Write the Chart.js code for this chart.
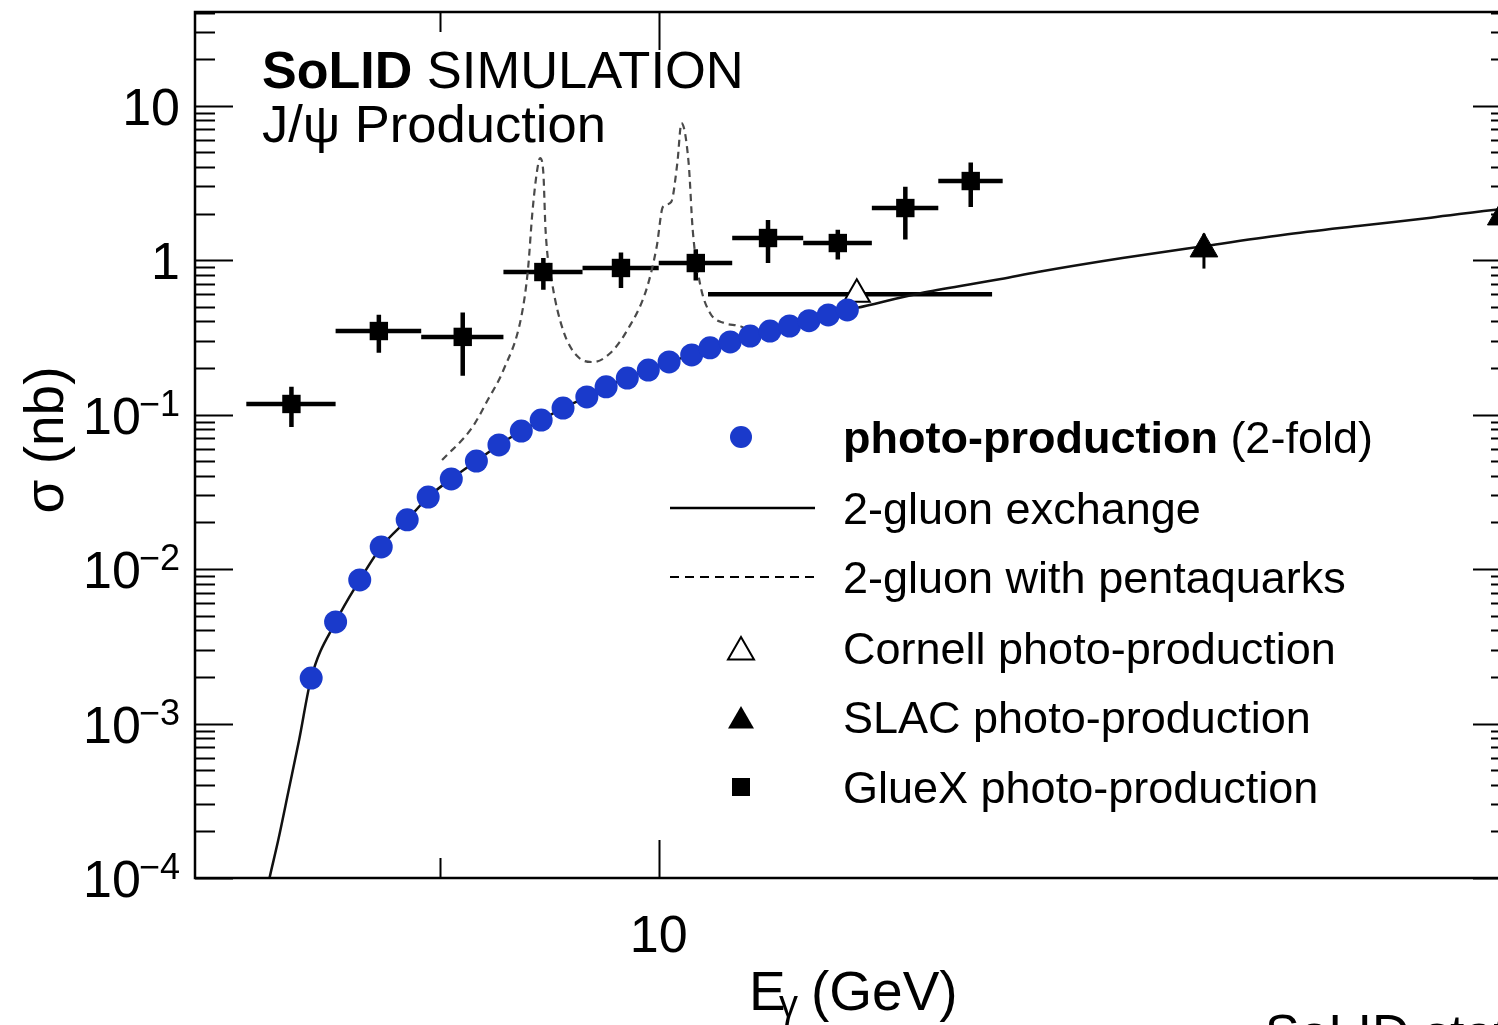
<!DOCTYPE html>
<html>
<head>
<meta charset="utf-8">
<title>J/psi photo-production cross section</title>
<script src="https://cdn.jsdelivr.net/npm/chart.js@4.4.1/dist/chart.umd.min.js"></script>
<style>
  html, body { margin: 0; padding: 0; background: #fff; overflow: hidden; }
  #wrap { width: 1530px; height: 1025px; }
</style>
</head>
<body>
<div id="wrap"><canvas id="chart" width="1530" height="1025"></canvas></div>
<script>
// ---- Photo-production (2-fold) projection: E_gamma (GeV), sigma (nb)
const ppE = [8.46, 8.56, 8.66, 8.75, 8.86, 8.95, 9.05, 9.16, 9.26, 9.36, 9.45, 9.55, 9.66,
             9.75, 9.85, 9.95, 10.05, 10.16, 10.25, 10.35, 10.45, 10.55, 10.65, 10.75, 10.85, 10.95];
const ppSigma = [0.00197, 0.00454, 0.00849, 0.0139, 0.0208, 0.0292, 0.0383, 0.0500, 0.0635, 0.0782,
                 0.0921, 0.110, 0.130, 0.151, 0.172, 0.194, 0.219, 0.243, 0.270, 0.295, 0.322,
                 0.347, 0.374, 0.405, 0.441, 0.475];

// ---- 2-gluon exchange model curve
const gluonE = [8.27, 8.292, 8.327, 8.369, 8.411,
                8.46, 8.56, 8.66, 8.75, 8.86, 8.95, 9.05, 9.16, 9.26, 9.36, 9.45, 9.55, 9.66,
                9.75, 9.85, 9.95, 10.05, 10.16, 10.25, 10.35, 10.45, 10.55, 10.65, 10.75, 10.85, 10.95,
                11.0, 11.36, 11.79, 12.0, 12.5, 13.0, 13.5, 14.0, 14.5, 15.0, 15.2];
const gluonSigma = [0.000068, 0.0001, 0.000176, 0.000371, 0.000782,
                    0.00197, 0.00454, 0.00849, 0.0139, 0.0208, 0.0292, 0.0383, 0.0500, 0.0635, 0.0782,
                    0.0921, 0.110, 0.130, 0.151, 0.172, 0.194, 0.219, 0.243, 0.270, 0.295, 0.322,
                    0.347, 0.374, 0.405, 0.441, 0.475,
                    0.49, 0.616, 0.753, 0.836, 1.03, 1.23, 1.45, 1.66, 1.88, 2.14, 2.22];

// ---- 2-gluon exchange with pentaquark resonances
const pentaE = [9.01, 9.14, 9.21, 9.28, 9.36, 9.39, 9.41, 9.43, 9.445, 9.46, 9.47, 9.50, 9.55, 9.62,
                9.69, 9.77, 9.85, 9.94, 9.99, 10.02, 10.06, 10.09, 10.11, 10.145, 10.165, 10.20,
                10.25, 10.32, 10.41, 10.45];
const pentaSigma = [0.0507, 0.0818, 0.124, 0.194, 0.428, 0.862, 2.015, 3.656, 4.57, 3.656, 1.564, 0.710,
                    0.352, 0.2356, 0.2187, 0.250, 0.352, 0.639, 1.214, 2.203, 2.374, 4.245, 7.70,
                    4.245, 1.564, 0.710, 0.454, 0.391, 0.368, 0.33];

// ---- GlueX data: bin centre, bin edges, sigma, error
const gluexE     = [8.38, 8.74, 9.10, 9.46, 9.82, 10.18, 10.54, 10.90, 11.26, 11.62];
const gluexLo    = [8.20, 8.56, 8.92, 9.28, 9.64, 10.00, 10.36, 10.72, 11.08, 11.44];
const gluexHi    = [8.56, 8.92, 9.28, 9.64, 10.00, 10.36, 10.72, 11.08, 11.44, 11.80];
const gluexSigma = [0.117, 0.347, 0.318, 0.836, 0.888, 0.956, 1.388, 1.288, 2.17, 3.245];
const gluexErr   = [0.034, 0.096, 0.14, 0.195, 0.23, 0.22, 0.43, 0.28, 0.81, 1.04];

// ---- Cornell data
const cornellE = [11.0];
const cornellLo = [10.24];
const cornellHi = [11.74];
const cornellSigma = [0.6];

// ---- SLAC data
const slacE = [13.0, 15.0];
const slacSigma = [1.18, 1.9];
const slacErr = [0.3, 0.35];

// ---- axis ticks
const xMinorTicks = [9];
const xMajorTicks = [10];
const yDecades = [-4, -3, -2, -1, 0, 1];

const FONT = '"Liberation Sans", Arial, Helvetica, sans-serif';
const BLUE = '#1a3acb';
const toXY = (xs, ys) => xs.map((x, i) => ({ x, y: ys[i] }));

function triPath(ctx, cx, cy, r) {
  ctx.beginPath();
  ctx.moveTo(cx, cy - r);
  ctx.lineTo(cx + r * Math.sin(2 * Math.PI / 3), cy - r * Math.cos(2 * Math.PI / 3));
  ctx.lineTo(cx + r * Math.sin(4 * Math.PI / 3), cy - r * Math.cos(4 * Math.PI / 3));
  ctx.closePath();
}

// error bars and bin widths
const errorBars = {
  id: 'errorBars',
  beforeDatasetsDraw(chart) {
    const { ctx, chartArea: a, scales: { x, y } } = chart;
    ctx.save();
    ctx.beginPath();
    ctx.rect(a.left, a.top, a.width, a.height);
    ctx.clip();
    ctx.strokeStyle = '#000';
    ctx.lineCap = 'butt';
    ctx.lineWidth = 4.5;
    gluexE.forEach((e, i) => {
      const py = y.getPixelForValue(gluexSigma[i]);
      const px = x.getPixelForValue(e);
      ctx.beginPath();
      ctx.moveTo(x.getPixelForValue(gluexLo[i]), py);
      ctx.lineTo(x.getPixelForValue(gluexHi[i]), py);
      ctx.moveTo(px, y.getPixelForValue(gluexSigma[i] + gluexErr[i]));
      ctx.lineTo(px, y.getPixelForValue(gluexSigma[i] - gluexErr[i]));
      ctx.stroke();
    });
    cornellE.forEach((e, i) => {
      const py = y.getPixelForValue(cornellSigma[i]);
      ctx.beginPath();
      ctx.moveTo(x.getPixelForValue(cornellLo[i]), py);
      ctx.lineTo(x.getPixelForValue(cornellHi[i]), py);
      ctx.stroke();
    });
    ctx.lineWidth = 3;
    slacE.forEach((e, i) => {
      const px = x.getPixelForValue(e);
      ctx.beginPath();
      ctx.moveTo(px, y.getPixelForValue(slacSigma[i] + slacErr[i]));
      ctx.lineTo(px, y.getPixelForValue(slacSigma[i] - slacErr[i]));
      ctx.stroke();
    });
    ctx.restore();
  }
};

// frame, ticks, labels, titles and legend
const frame = {
  id: 'frame',
  afterDraw(chart) {
    const { ctx, chartArea: a, scales: { x, y } } = chart;
    ctx.save();
    ctx.strokeStyle = '#000';
    ctx.fillStyle = '#000';

    // box
    ctx.lineWidth = 2.5;
    ctx.strokeRect(a.left, a.top, a.right - a.left, a.bottom - a.top);

    // y ticks (left and right)
    ctx.lineWidth = 2;
    ctx.beginPath();
    yDecades.forEach(n => {
      for (let m = 1; m <= 9; m++) {
        const v = m * Math.pow(10, n);
        if (v < y.min * 0.999 || v > y.max) continue;
        const py = Math.round(y.getPixelForValue(v)) + 0.5;
        const len = m === 1 ? 38 : 20;
        ctx.moveTo(a.left, py); ctx.lineTo(a.left + len, py);
        ctx.moveTo(a.right, py); ctx.lineTo(a.right - len, py);
      }
    });
    // x ticks (bottom and top)
    const xt = (v, len) => {
      const px = Math.round(x.getPixelForValue(v)) + 0.5;
      ctx.moveTo(px, a.bottom); ctx.lineTo(px, a.bottom - len);
      ctx.moveTo(px, a.top); ctx.lineTo(px, a.top + len);
    };
    xMinorTicks.forEach(v => xt(v, 20));
    xMajorTicks.forEach(v => xt(v, 38));
    ctx.stroke();

    // y tick labels
    const mainFont = '52px ' + FONT;
    const supFont = '36px ' + FONT;
    const labelRight = a.left - 15;
    ctx.textBaseline = 'alphabetic';
    yDecades.forEach(n => {
      const py = y.getPixelForValue(Math.pow(10, n));
      if (n === 0 || n === 1) {
        ctx.font = mainFont;
        ctx.textAlign = 'right';
        ctx.fillText(n === 0 ? '1' : '10', labelRight, py + 19);
      } else {
        const sup = '\u2212' + Math.abs(n);
        ctx.font = supFont;
        const sw = ctx.measureText(sup).width;
        ctx.textAlign = 'left';
        ctx.fillText(sup, labelRight - sw, py + 1);
        ctx.font = mainFont;
        ctx.textAlign = 'right';
        ctx.fillText('10', labelRight - sw + 2, py + 19);
      }
    });

    // x tick labels
    ctx.font = mainFont;
    ctx.textAlign = 'center';
    xMajorTicks.forEach(v => ctx.fillText(String(v), x.getPixelForValue(v), a.bottom + 74));

    // x title
    ctx.textAlign = 'left';
    ctx.font = '55px ' + FONT;
    ctx.fillText('E', 749, 1010);
    ctx.font = '38px ' + FONT;
    ctx.fillText('\u03b3', 779, 1017);
    ctx.font = '55px ' + FONT;
    ctx.fillText('(GeV)', 811, 1010);

    // y title
    ctx.save();
    ctx.translate(63, 440);
    ctx.rotate(-Math.PI / 2);
    ctx.textAlign = 'center';
    ctx.font = '55px ' + FONT;
    ctx.fillText('\u03c3 (nb)', 0, 0);
    ctx.restore();

    // header text
    ctx.textAlign = 'left';
    ctx.font = 'bold 52px ' + FONT;
    ctx.fillText('SoLID', 262, 88);
    const sw = ctx.measureText('SoLID').width;
    ctx.font = '52.5px ' + FONT;
    ctx.fillText(' SIMULATION', 262 + sw, 88);
    ctx.fillText('J/\u03c8 Production', 262, 142);

    // legend
    const lx = 741, tx = 843;
    const rows = [437, 508, 577, 648, 717, 787];
    ctx.fillStyle = BLUE;
    ctx.beginPath(); ctx.arc(lx, rows[0], 11, 0, 2 * Math.PI); ctx.fill();
    ctx.fillStyle = '#000';
    ctx.lineWidth = 2.5;
    ctx.beginPath(); ctx.moveTo(670, rows[1]); ctx.lineTo(815, rows[1]); ctx.stroke();
    ctx.save();
    ctx.lineWidth = 2.2;
    ctx.setLineDash([9, 6]);
    ctx.beginPath(); ctx.moveTo(670, rows[2]); ctx.lineTo(815, rows[2]); ctx.stroke();
    ctx.restore();
    ctx.lineWidth = 2;
    triPath(ctx, lx, rows[3] + 4, 15); ctx.fillStyle = '#fff'; ctx.fill(); ctx.stroke();
    ctx.fillStyle = '#000';
    triPath(ctx, lx, rows[4] + 4, 15); ctx.fill();
    ctx.fillRect(lx - 9, rows[5] - 9, 18, 18);

    ctx.font = 'bold 45px ' + FONT;
    ctx.fillText('photo-production', tx, rows[0] + 16);
    const bw = ctx.measureText('photo-production').width;
    ctx.font = '45px ' + FONT;
    ctx.fillText(' (2-fold)', tx + bw, rows[0] + 16);
    ctx.fillText('2-gluon exchange', tx, rows[1] + 16);
    ctx.fillText('2-gluon with pentaquarks', tx, rows[2] + 16);
    ctx.fillText('Cornell photo-production', tx, rows[3] + 16);
    ctx.fillText('SLAC photo-production', tx, rows[4] + 16);
    ctx.fillText('GlueX photo-production', tx, rows[5] + 16);

    // slide caption running below the figure
    ctx.font = '52px ' + FONT;
    ctx.fillText('SoLID statistics', 1265, 1051);

    ctx.restore();
  }
};

new Chart(document.getElementById('chart'), {
  type: 'scatter',
  data: {
    datasets: [
      {
        label: '2-gluon with pentaquarks',
        data: toXY(pentaE, pentaSigma),
        showLine: true, fill: false,
        borderColor: '#4a4a4a', borderWidth: 2.2, borderDash: [7, 5],
        pointRadius: 0, cubicInterpolationMode: 'monotone',
        order: 5
      },
      {
        label: '2-gluon exchange',
        data: toXY(gluonE, gluonSigma),
        showLine: true, fill: false,
        borderColor: '#111', borderWidth: 2.5,
        pointRadius: 0, cubicInterpolationMode: 'monotone',
        order: 4
      },
      {
        label: 'Cornell photo-production',
        data: toXY(cornellE, cornellSigma),
        pointStyle: 'triangle', pointRadius: 15,
        backgroundColor: '#fff', borderColor: '#000', borderWidth: 2,
        order: 3
      },
      {
        label: 'photo-production (2-fold)',
        data: toXY(ppE, ppSigma),
        pointStyle: 'circle', pointRadius: 11.5,
        backgroundColor: BLUE, borderColor: BLUE, borderWidth: 0,
        order: 2
      },
      {
        label: 'SLAC photo-production',
        data: toXY(slacE, slacSigma),
        pointStyle: 'triangle', pointRadius: 16,
        backgroundColor: '#000', borderColor: '#000', borderWidth: 1,
        order: 1
      },
      {
        label: 'GlueX photo-production',
        data: toXY(gluexE, gluexSigma),
        pointStyle: 'rect', pointRadius: 13,
        backgroundColor: '#000', borderColor: '#000', borderWidth: 0,
        order: 0
      }
    ]
  },
  options: {
    responsive: false,
    animation: false,
    devicePixelRatio: 1,
    events: [],
    layout: { autoPadding: false, padding: { left: 195, top: 12, right: 19, bottom: 147 } },
    scales: {
      x: { type: 'logarithmic', min: 8.012, max: 15.07, display: false },
      y: { type: 'logarithmic', min: 1e-4, max: 40.3, display: false }
    },
    plugins: { legend: { display: false }, tooltip: { enabled: false } }
  },
  plugins: [errorBars, frame]
});
</script>
</body>
</html>
